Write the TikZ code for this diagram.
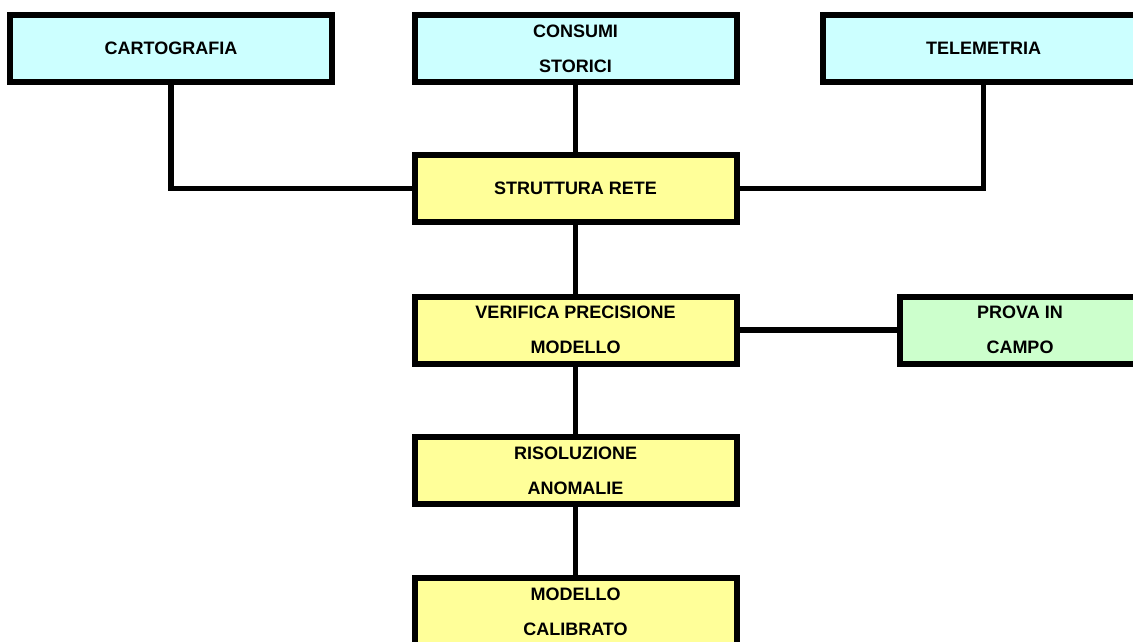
\documentclass[tikz,border=0pt]{standalone}
\usepackage{fontspec}
\setmainfont{Liberation Sans}
\definecolor{boxcyan}{HTML}{CCFFFF}
\definecolor{boxyellow}{HTML}{FFFF99}
\definecolor{boxgreen}{HTML}{CCFFCC}
\begin{document}
\begin{tikzpicture}[x=1pt,y=-1pt,
  box/.style={draw=black, line width=6pt, rectangle, minimum width=322pt,
    minimum height=67pt, align=center, inner sep=0pt,
    font=\fontsize{18}{35}\selectfont\bfseries},
  cbox/.style={box, fill=boxcyan},
  ybox/.style={box, fill=boxyellow},
  gbox/.style={box, fill=boxgreen, minimum width=240pt},
  link/.style={line width=5.5pt}]
\useasboundingbox (0,0) rectangle (1133,641);
\clip (0,0) rectangle (1133,641);
\node[cbox] (carto) at (171,48.5) {CARTOGRAFIA};
\node[cbox] (cons) at (575.5,48.5) {CONSUMI\\STORICI};
\node[cbox] (tele) at (983.5,48.5) {TELEMETRIA};
\node[ybox] (rete) at (575.5,188.5) {STRUTTURA RETE};
\node[ybox] (verif) at (575.5,330) {VERIFICA PRECISIONE\\MODELLO};
\node[gbox] (prova) at (1020,330) {PROVA IN\\CAMPO};
\node[ybox] (anom) at (575.5,470.5) {RISOLUZIONE\\ANOMALIE};
\node[ybox] (calib) at (575.5,611.5) {MODELLO\\CALIBRATO};
\draw[link] (carto.south) |- (rete.west);
\draw[link] (tele.south) |- (rete.east);
\draw[link] (cons.south) -- (rete.north);
\draw[link] (rete.south) -- (verif.north);
\draw[link] (verif.east) -- (prova.west);
\draw[link] (verif.south) -- (anom.north);
\draw[link] (anom.south) -- (calib.north);
\end{tikzpicture}
\end{document}
